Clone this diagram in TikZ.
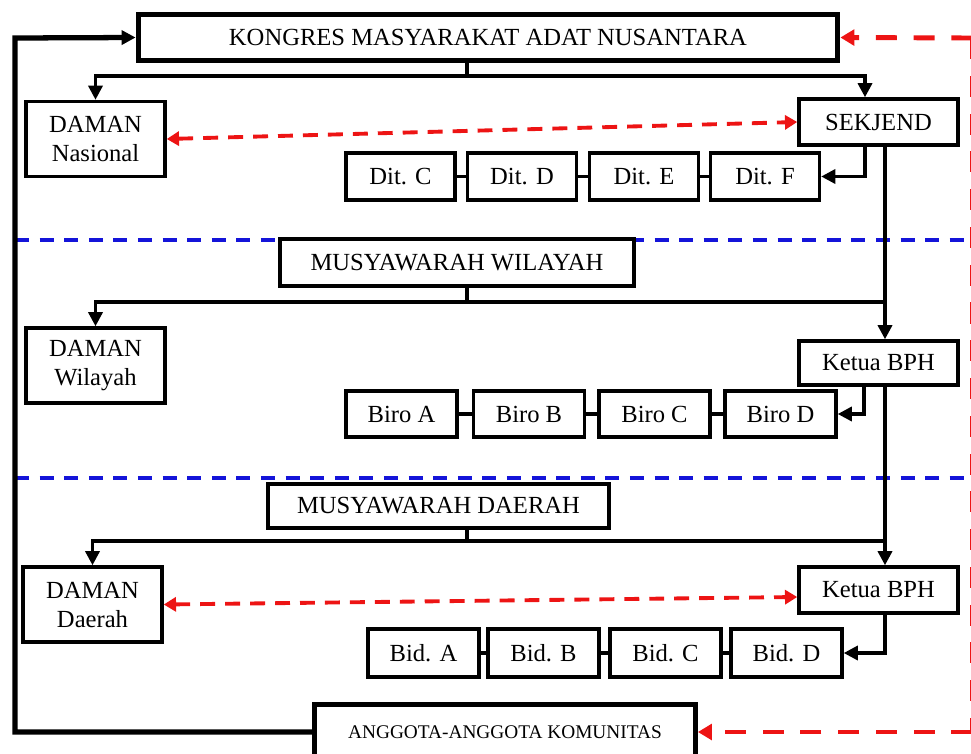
\documentclass[tikz,border=0pt]{standalone}
\usepackage{fontspec}
\setmainfont{Liberation Serif}
\usetikzlibrary{arrows.meta, positioning, calc}
\definecolor{linkred}{rgb}{0.93,0.08,0.08}
\definecolor{levelblue}{rgb}{0.08,0.08,0.85}

\begin{document}
\begin{tikzpicture}[x=0.02cm, y=-0.02cm,
		box/.style={draw, fill=white, line width=2pt, inner sep=0pt, align=center, font=\fontsize{14}{16.5}\selectfont},
		bigbox/.style={box, line width=2.8pt},
		link/.style={line width=1.8pt},
		conn/.style={link, -{Triangle[length=8pt,width=8pt]}},
		returnline/.style={line width=3pt, -{Triangle[length=8pt,width=8pt]}},
		reddash/.style={linkred, line width=2.2pt, dash pattern=on 8.5pt off 5.7pt, {Triangle[length=7pt,width=8pt]}-{Triangle[length=7pt,width=8pt]}},
		redline/.style={linkred, line width=2.8pt, dash pattern=on 12pt off 9.5pt},
		redarrow/.style={redline, -{Triangle[length=8pt,width=9pt]}},
		levelline/.style={levelblue, line width=2pt, dash pattern=on 8pt off 6pt}]
	\useasboundingbox (0,0) rectangle (971,754);
	
	\coordinate (lvl1L) at (15,240);
	\coordinate (lvl1R) at (971,240);
	\coordinate (lvl2L) at (15,478);
	\coordinate (lvl2R) at (971,478);
	\draw[levelline] (lvl1L) -- (lvl1R);
	\draw[levelline] (lvl2L) -- (lvl2R);
	
	\node(kongres) [bigbox, minimum width=14.0cm, minimum height=0.92cm] at (488,37.5) {KONGRES MASYARAKAT ADAT NUSANTARA};
	\node(damanN) [box, minimum width=2.78cm, minimum height=1.5cm] at (95.5,139) {DAMAN\\Nasional};
	\node(sekjend) [box, minimum width=3.18cm, minimum height=0.92cm] at (878.5,122) {SEKJEND};
	\node(ditC) [box, minimum width=2.18cm, minimum height=0.94cm] at (400.5,176.5) {Dit. C};
	\node(ditD) [box, minimum width=2.18cm, minimum height=0.94cm] at (522,176.5) {Dit. D};
	\node(ditE) [box, minimum width=2.18cm, minimum height=0.94cm] at (644,176.5) {Dit. E};
	\node(ditF) [box, minimum width=2.18cm, minimum height=0.94cm] at (765,176.5) {Dit. F};
	
	\node(musW) [box, minimum width=7.08cm, minimum height=0.94cm] at (457,262.5) {MUSYAWARAH WILAYAH};
	\node(damanW) [box, minimum width=2.78cm, minimum height=1.5cm] at (95.5,365.5) {DAMAN\\Wilayah};
	\node(ketuaW) [box, minimum width=3.18cm, minimum height=0.88cm] at (878.5,363) {Ketua BPH};
	\node(biroA) [box, minimum width=2.22cm, minimum height=0.92cm] at (401.5,414) {Biro A};
	\node(biroB) [box, minimum width=2.22cm, minimum height=0.92cm] at (529,414) {Biro B};
	\node(biroC) [box, minimum width=2.22cm, minimum height=0.92cm] at (654.5,414) {Biro C};
	\node(biroD) [box, minimum width=2.22cm, minimum height=0.92cm] at (780.5,414) {Biro D};
	
	\node(musD) [box, minimum width=6.82cm, minimum height=0.88cm] at (438.5,506) {MUSYAWARAH DAERAH};
	\node(damanD) [box, minimum width=2.78cm, minimum height=1.5cm] at (92.5,604.5) {DAMAN\\Daerah};
	\node(ketuaD) [box, minimum width=3.18cm, minimum height=0.92cm] at (878.5,590) {Ketua BPH};
	\node(bidA) [box, minimum width=2.22cm, minimum height=0.96cm] at (423.5,653) {Bid. A};
	\node(bidB) [box, minimum width=2.22cm, minimum height=0.96cm] at (543.5,653) {Bid. B};
	\node(bidC) [box, minimum width=2.22cm, minimum height=0.96cm] at (665.5,653) {Bid. C};
	\node(bidD) [box, minimum width=2.22cm, minimum height=0.96cm] at (786.5,653) {Bid. D};
	
	\node(anggota) [bigbox, minimum width=7.62cm, minimum height=1.1cm, font=\fontsize{11}{13}\selectfont] at (505,732) {ANGGOTA-ANGGOTA KOMUNITAS};
	
	\coordinate (kbus) at (467,76);
	\coordinate (wbus) at (467,302);
	\coordinate (wjoin) at (885,302);
	\coordinate (dbus) at (467,541);
	\coordinate (djoin) at (885,541);
	\coordinate (loopT) at (15,38);
	\coordinate (loopB) at (15,732);
	\coordinate (redT) at (972.5,38);
	\coordinate (redB) at (972.5,732);
	
	\draw[link] (kongres.south -| kbus) -- (kbus);
	\draw[conn] (kbus) -| (damanN);
	\draw[conn] (kbus) -| ([xshift=-0.27cm]sekjend.north);
	\draw[conn] ([xshift=-0.27cm]sekjend.south) |- (ditF);
	\draw[link] (ditC) -- (ditD) -- (ditE) -- (ditF);
	\draw[conn] ([xshift=0.13cm]sekjend.south) -- ([xshift=0.13cm]ketuaW.north);
	
	\draw[link] (musW.south -| wbus) -- (wbus) -- (wjoin);
	\draw[conn] (wbus) -| (damanW);
	\draw[conn] ([xshift=-0.29cm]ketuaW.south) |- (biroD);
	\draw[link] (biroA) -- (biroB) -- (biroC) -- (biroD);
	\draw[conn] ([xshift=0.13cm]ketuaW.south) -- ([xshift=0.13cm]ketuaD.north);
	
	\draw[link] (musD.south -| dbus) -- (dbus) -- (djoin);
	\draw[conn] (dbus) -| (damanD);
	\draw[conn] ([xshift=0.13cm]ketuaD.south) |- (bidD);
	\draw[link] (bidA) -- (bidB) -- (bidC) -- (bidD);
	
	\draw[returnline] (anggota.west) -- (loopB) -- (loopT) -- (kongres.west);
	
	\draw[reddash] (damanN.east) -- (sekjend.west);
	\draw[reddash] (damanD.east) -- ([yshift=-0.14cm]ketuaD.west);
	\draw[redline] (redT) -- (redB);
	\draw[redarrow] (redT) -- (kongres.east);
	\draw[redarrow] (redB) -- (anggota.east);
\end{tikzpicture}
\end{document}
